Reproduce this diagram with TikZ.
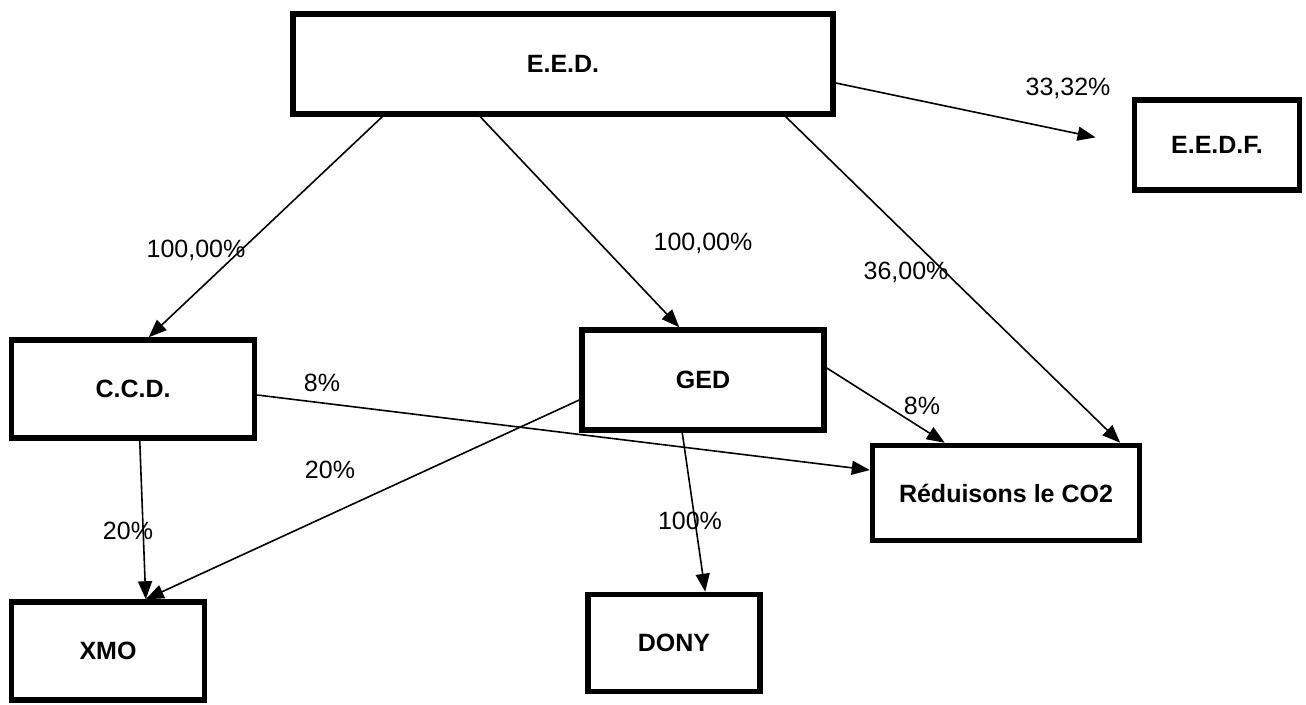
\documentclass[tikz,border=0pt]{standalone}
\usepackage{fontspec}
\setmainfont{Liberation Sans}
\usetikzlibrary{arrows.meta}
\tikzset{
  box/.style={draw, line width=5.5pt, rectangle, font=\fontsize{25}{28}\selectfont\bfseries, inner sep=0pt},
  lab/.style={font=\fontsize{25}{28}\selectfont, inner sep=0pt},
  conn/.style={line width=1.6pt, -{Triangle[length=18pt,width=14pt]}}
}
\begin{document}
\begin{tikzpicture}[x=1pt,y=-1pt]
\useasboundingbox (0,0) rectangle (1306,704);
\node[box, minimum width=540pt, minimum height=100pt] (eed) at (563,64) {E.E.D.};
\node[box, minimum width=165pt, minimum height=90pt] (eedf) at (1217,145) {E.E.D.F.};
\node[box, minimum width=243pt, minimum height=98pt] (ccd) at (133,389) {C.C.D.};
\node[box, minimum width=242pt, minimum height=100pt] (ged) at (703,380) {GED};
\node[box, minimum width=267pt, minimum height=95pt] (red) at (1006,493) {Réduisons le CO2};
\node[box, minimum width=193pt, minimum height=98pt] (xmo) at (108,651) {XMO};
\node[box, minimum width=172pt, minimum height=97pt] (dony) at (674,643) {DONY};

\draw[conn] ([xshift=92pt]eed.south west) -- ([xshift=140pt]ccd.north west);
\draw[conn] ([xshift=190pt]eed.south west) -- ([xshift=100pt]ged.north west);
\draw[conn] ([xshift=-50pt]eed.south east) -- ([xshift=-22pt]red.north east);
\draw[conn, shorten >=37pt] ([yshift=-19pt]eed.east) -- (eedf.west);
\draw[conn] ([yshift=-6pt]ccd.east) -- ([yshift=23pt]red.west);
\draw[conn] ([yshift=12pt]ged.east) -- ([xshift=75pt]red.north west);
\draw[conn] ([yshift=-20pt]ged.west) -- ([xshift=137pt]xmo.north west);
\draw[conn] ([xshift=131pt]ccd.south west) -- ([xshift=137pt]xmo.north west);
\draw[conn] ([xshift=103pt]ged.south west) -- ([xshift=120pt]dony.north west);

\node[lab] (l1) at (1068,88) {33,32\%};
\node[lab] (l2) at (196,250) {100,00\%};
\node[lab] (l3) at (703,243) {100,00\%};
\node[lab] (l4) at (906,272) {36,00\%};
\node[lab] (l5) at (322,383) {8\%};
\node[lab] (l6) at (922,406) {8\%};
\node[lab] (l7) at (330,470) {20\%};
\node[lab] (l8) at (128,531) {20\%};
\node[lab] (l9) at (690,521) {100\%};
\end{tikzpicture}
\end{document}
